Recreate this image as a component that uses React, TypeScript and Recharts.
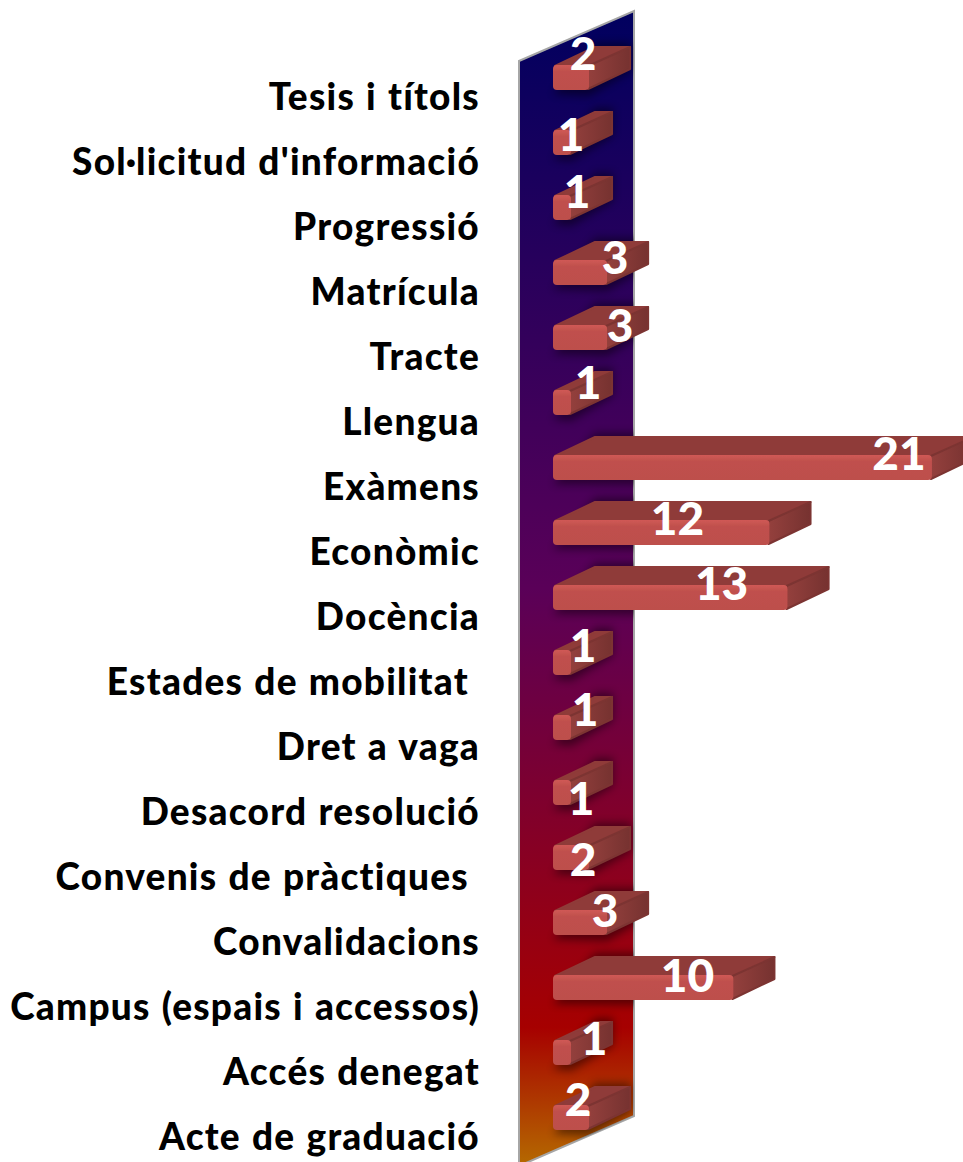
import React from 'react';
import { BarChart, Bar, XAxis, YAxis, LabelList, Customized } from 'recharts';

const categories = [
    'Tesis i títols',
    "Sol·licitud d'informació",
    'Progressió',
    'Matrícula',
    'Tracte',
    'Llengua',
    'Exàmens',
    'Econòmic',
    'Docència',
    'Estades de mobilitat ',
    'Dret a vaga',
    'Desacord resolució',
    'Convenis de pràctiques ',
    'Convalidacions',
    'Campus (espais i accessos)',
    'Accés denegat',
    'Acte de graduació',
];

const values = [2, 1, 1, 3, 3, 1, 21, 12, 13, 1, 1, 1, 2, 3, 10, 1, 2];

// the labels were dragged around by hand in the original, so each has its own nudge
const labelNudgeX = [-6, 0, 6, 8, 13, 17, -33, -92, -66, 12, 14, 10, -6, -2, -46, 23, -11];
const labelNudgeY = [-25, -9, -17, -16, -13, -21, -15, -15, -15, -18, -19, 5, 1, -13, -13, -15, -19];

const rows = categories.map((name, i) => ({ name, value: values[i] }));

const FONT = 'Lato, sans-serif';
const DEPTH_X = 42;
const DEPTH_Y = 19;

function Wall() {
    return (
        <g>
            <defs>
                <linearGradient id="wallFill" x1="0" y1="0" x2="0" y2="1">
                    <stop offset="0" stopColor="#00005f" />
                    <stop offset="0.5" stopColor="#5a0058" />
                    <stop offset="0.88" stopColor="#a60000" />
                    <stop offset="1" stopColor="#b56a00" />
                </linearGradient>
                <linearGradient id="frontFill" x1="0" y1="0" x2="0" y2="1">
                    <stop offset="0" stopColor="#d05a55" />
                    <stop offset="0.25" stopColor="#c0504d" />
                    <stop offset="1" stopColor="#bd4f4c" />
                </linearGradient>
                <linearGradient id="sideFill" x1="0" y1="0" x2="1" y2="0">
                    <stop offset="0" stopColor="#94403d" />
                    <stop offset="1" stopColor="#763230" />
                </linearGradient>
                <filter id="wallShadow" x="-30%" y="-50%" width="160%" height="200%">
                    <feGaussianBlur stdDeviation="4" />
                </filter>
                <filter id="softEdge" x="-5%" y="-10%" width="110%" height="120%">
                    <feGaussianBlur stdDeviation="0.6" />
                </filter>
                <clipPath id="wallClip">
                    <polygon points="519,61 634,11 634,1116 519,1166" />
                </clipPath>
            </defs>
            <polygon
                points="519,61 634,11 634,1116 519,1166"
                fill="url(#wallFill)"
                stroke="#a6a6a6"
                strokeWidth={2}
            />
        </g>
    );
}

function SolidBar(props: any) {
    const { x, y, width, height } = props;
    const right = x + width;
    const bottom = y + height;
    const shadowPts = `${x},${bottom + 4} ${x + DEPTH_X},${y - DEPTH_Y - 3} ${right + DEPTH_X},${y - DEPTH_Y - 3} ${right + DEPTH_X},${bottom - DEPTH_Y} ${right},${bottom + 6}`;
    return (
        <g>
            <g clipPath="url(#wallClip)">
                <polygon points={shadowPts} fill="#000" opacity={0.45} filter="url(#wallShadow)" />
            </g>
            <polygon
                points={`${x + 2},${y + 1} ${x + DEPTH_X},${y - DEPTH_Y + 1} ${right + DEPTH_X - 1},${y - DEPTH_Y + 1} ${right},${y + 1}`}
                fill="#8f3b39"
                stroke="#8f3b39"
                strokeWidth={2}
                strokeLinejoin="round"
            />
            <polygon
                points={`${right - 1},${y + 1} ${right + DEPTH_X - 1},${y - DEPTH_Y + 1} ${right + DEPTH_X - 1},${bottom - DEPTH_Y - 2} ${right - 1},${bottom - 1}`}
                fill="url(#sideFill)"
                stroke="#7c3432"
                strokeWidth={2}
                strokeLinejoin="round"
            />
            <rect x={x} y={y} width={width} height={height} rx={4} fill="url(#frontFill)" filter="url(#softEdge)" />
        </g>
    );
}

function ValueLabel(props: any) {
    const { x, y, width, height, index, value } = props;
    return (
        <text
            x={x + width + labelNudgeX[index]}
            y={y + height / 2 + labelNudgeY[index]}
            textAnchor="middle"
            dominantBaseline="central"
            fontFamily={FONT}
            fontWeight={900}
            fontSize={46}
            fill="#fff"
        >
            {value}
        </text>
    );
}

function CategoryTick(props: any) {
    const { y, payload } = props;
    return (
        <text
            x={480}
            y={y + 18}
            textAnchor="end"
            dominantBaseline="central"
            fontFamily={FONT}
            fontWeight={900}
            fontSize={37}
            letterSpacing={1.25}
            wordSpacing={1}
            fill="#000"
            style={{ whiteSpace: 'pre' }}
        >
            {payload.value}
        </text>
    );
}

export default function App() {
    return (
        <div style={{ position: 'absolute', left: 0, top: 0, width: 963, height: 1162, overflow: 'hidden' }}>
            <BarChart
                width={963}
                height={1162}
                data={rows}
                layout="vertical"
                barSize={25}
                margin={{ top: 45, right: 13, bottom: 12, left: 0 }}
            >
                <Customized component={Wall} />
                <XAxis type="number" domain={[0, 22]} hide />
                <YAxis
                    type="category"
                    dataKey="name"
                    width={553}
                    interval={0}
                    axisLine={false}
                    tickLine={false}
                    tick={CategoryTick}
                />
                <Bar dataKey="value" shape={SolidBar} isAnimationActive={false}>
                    <LabelList dataKey="value" content={ValueLabel} />
                </Bar>
            </BarChart>
        </div>
    );
}
